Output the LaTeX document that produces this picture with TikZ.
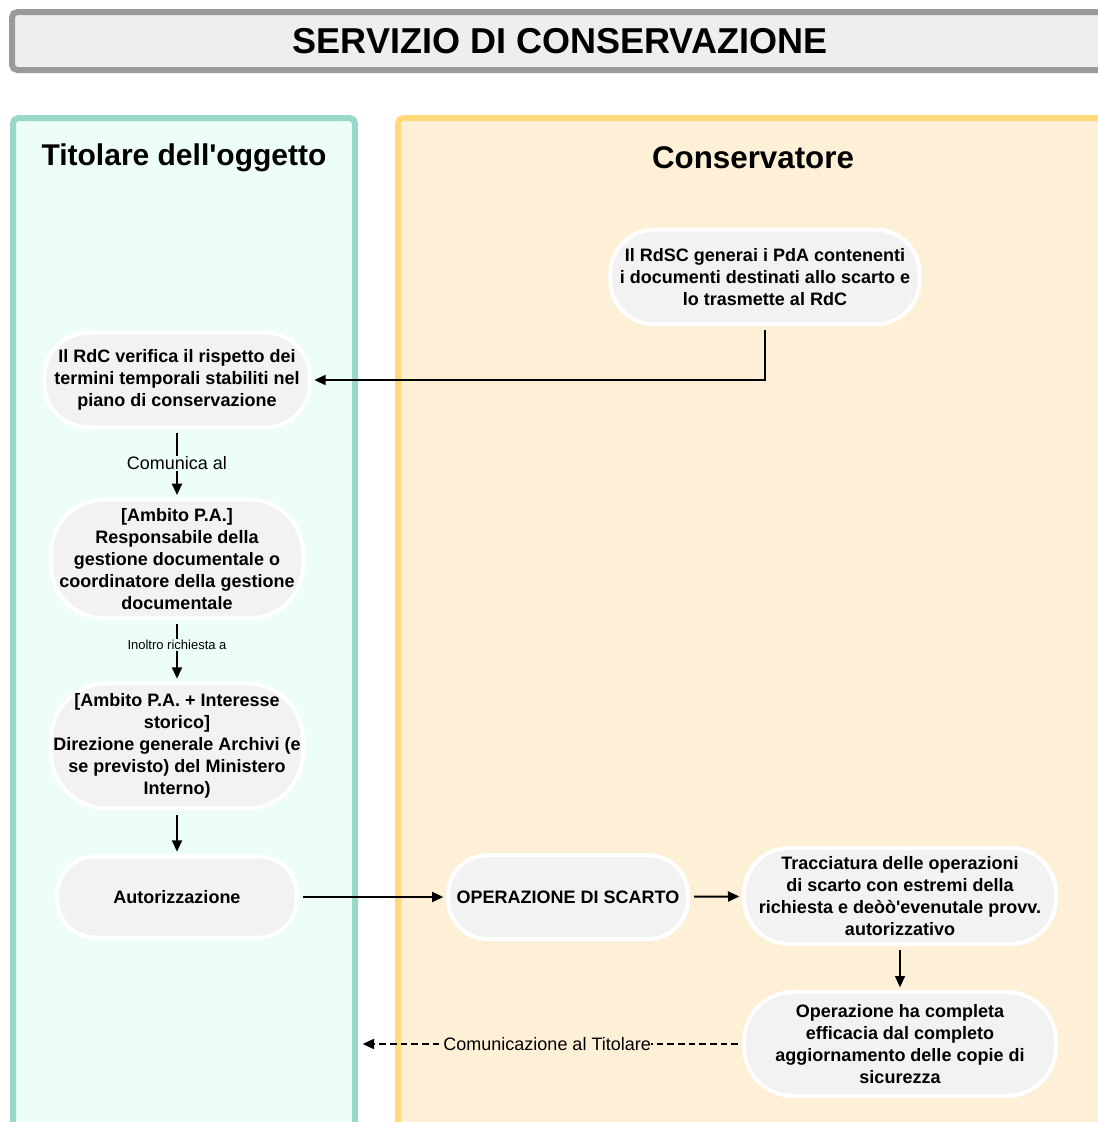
\documentclass[tikz,border=0pt]{standalone}
\usepackage{fontspec}
\setmainfont{Liberation Sans}
\usetikzlibrary{arrows.meta}
\definecolor{titlefill}{HTML}{EEEEEE}
\definecolor{titledraw}{HTML}{9A9A9A}
\definecolor{lgdraw}{HTML}{99D8C8}
\definecolor{lgfill}{HTML}{EDFDF8}
\definecolor{rodraw}{HTML}{FFD97A}
\definecolor{rofill}{HTML}{FDF0D6}
\definecolor{boxfill}{HTML}{F2F2F2}
\tikzset{
  stadium/.style={draw=white, line width=3pt, fill=boxfill, align=center, inner sep=0pt,
    font=\bfseries\fontsize{13.5}{16.5}\selectfont},
  arr/.style={line width=1.5pt, -{Triangle[width=7.5pt,length=8.5pt]}, shorten <=3pt, shorten >=2pt},
  lbl/.style={font=\fontsize{13.5}{16}\selectfont, inner sep=1pt},
}
\begin{document}
\begin{tikzpicture}[x=0.75pt,y=-0.75pt]
\useasboundingbox (0,0) rectangle (1098,1122);
\clip (0,0) rectangle (1098,1122);
% title
\draw[draw=titledraw, fill=titlefill, line width=4.5pt, rounded corners=4pt] (12,12) rectangle (1120,70);
\node[font=\bfseries\fontsize{27}{30}\selectfont] (title) at (560,41) {SERVIZIO DI CONSERVAZIONE};
% lanes
\draw[draw=lgdraw, fill=lgfill, line width=4.5pt, rounded corners=4pt] (13,118) rectangle (355,1140);
\draw[draw=rodraw, fill=rofill, line width=4.5pt, rounded corners=4pt] (398,118) rectangle (1120,1140);
\node[font=\bfseries\fontsize{22.5}{26}\selectfont] (h1) at (184,158) {Titolare dell\textquotesingle oggetto};
\node[font=\bfseries\fontsize{23.5}{26}\selectfont] (h2) at (753,158) {Conservatore};
% nodes
\node[stadium, minimum width=232pt, minimum height=71pt, rounded corners=33pt] (n1) at (765,277)
  {Il RdSC generai i PdA contenenti\\i documenti destinati allo scarto e\\lo trasmette al RdC};
\node[stadium, minimum width=199pt, minimum height=71pt, rounded corners=33pt] (n2) at (177,380)
  {Il RdC verifica il rispetto dei\\termini temporali stabiliti nel\\piano di conservazione};
\node[stadium, minimum width=189pt, minimum height=89pt, rounded corners=40pt] (n3) at (177,559)
  {[Ambito P.A.]\\Responsabile della\\gestione documentale o\\coordinatore della gestione\\documentale};
\node[stadium, minimum width=189pt, minimum height=94pt, rounded corners=42pt] (n4) at (177,746)
  {[Ambito P.A. + Interesse\\storico]\\Direzione generale Archivi (e\\se previsto) del Ministero\\Interno)};
\node[stadium, minimum width=180pt, minimum height=61pt, rounded corners=29pt] (n5) at (177,897)
  {Autorizzazione};
\node[stadium, minimum width=180pt, minimum height=63pt, rounded corners=30pt] (n6) at (568,897)
  {OPERAZIONE DI SCARTO};
\node[stadium, minimum width=234pt, minimum height=72pt, rounded corners=34pt] (n7) at (900,896)
  {Tracciatura delle operazioni\\di scarto con estremi della\\richiesta e deòò\textquotesingle evenutale provv.\\autorizzativo};
\node[stadium, minimum width=234pt, minimum height=78pt, rounded corners=37pt] (n8) at (900,1044)
  {Operazione ha completa\\efficacia dal completo\\aggiornamento delle copie di\\sicurezza};
% connectors
\draw[arr] (n1.south) -- (n1.south |- n2.east) -- (n2.east);
\draw[arr] (n2) -- node[lbl, fill=lgfill] {Comunica al} (n3);
\draw[arr] (n3) -- node[lbl, fill=lgfill, font=\fontsize{9.75}{11}\selectfont, pos=0.4] {Inoltro richiesta a} (n4);
\draw[arr] (n4) -- (n5);
\draw[arr] (n5) -- (n6);
\draw[arr] (n6) -- (n7);
\draw[arr, line width=1pt] (n7) -- (n8);
\coordinate (endc) at (360,1044);
\draw[arr, dashed, dash pattern=on 5pt off 3pt] (n8.west) -- node[lbl, fill=rofill, pos=0.51, inner sep=0pt] {Comunicazione al Titolare} (endc);
\end{tikzpicture}
\end{document}
